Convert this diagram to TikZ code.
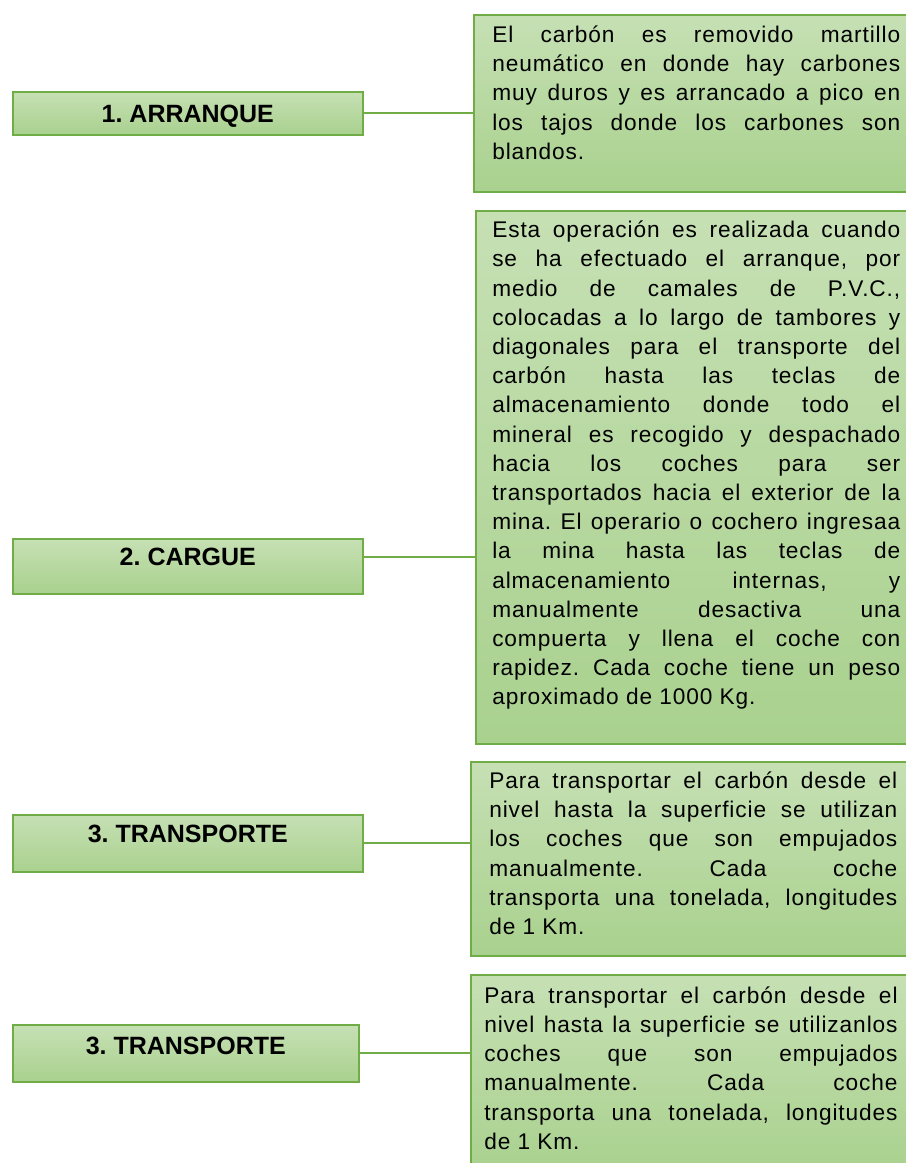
\documentclass[tikz,border=0pt]{standalone}
\usepackage{fontspec}
\setmainfont{Liberation Sans}
\newfontfamily\bodyfont[LetterSpace=4]{Liberation Sans}
\usetikzlibrary{positioning,calc}
\definecolor{boxline}{HTML}{70AD47}
\definecolor{boxtop}{HTML}{C6E0B4}
\definecolor{boxbot}{HTML}{A9D18E}
\frenchspacing

\begin{document}
\begin{tikzpicture}[x=0.75pt,y=-0.75pt,
  lbox/.style={draw=boxline,line width=1.2pt,top color=boxtop,bottom color=boxbot,
    anchor=north west,inner sep=0pt,minimum width=262.5pt,
    font=\fontsize{18.75}{22}\selectfont\bfseries},
  rbox/.style={draw=boxline,line width=1.2pt,top color=boxtop,bottom color=boxbot,
    anchor=north west,inner sep=0pt,minimum width=337.5pt},
  rtext/.style={anchor=north west,inner sep=0pt,text width=306pt,align=justify,
    font=\bodyfont\fontsize{17}{21.9}\selectfont,
    execute at begin node={\tolerance=10000\hyphenpenalty=10000\rule{0pt}{16.5pt}}},
  link/.style={color=boxline,line width=1.4pt}]
  \useasboundingbox (0,0) rectangle (906,1163);
  % steps on the left
  \node[lbox,text height=23pt,text depth=9.25pt] (l1) at (12,91) {1. ARRANQUE};
  \node[lbox,text height=20pt,text depth=21.25pt] (l2) at (12,538) {2. CARGUE};
  \node[lbox,text height=20.8pt,text depth=22pt] (l3) at (12,814) {3. TRANSPORTE};
  \node[lbox,text height=22.3pt,text depth=20.5pt,minimum width=259.5pt] (l4) at (12,1024) {3. TRANSPORTE};
  % descriptions on the right (cut off by the page edge)
  \node[rbox,minimum height=132.75pt] (r1) at (473,14) {};
  \node[rbox,minimum height=399.75pt] (r2) at (475,210) {};
  \node[rbox,minimum height=145.5pt] (r3) at (470,761) {};
  \node[rbox,minimum height=150pt] (r4) at (470,974) {};
  \node[rtext] (t1) at (492,20.3) {El carbón es removido martillo\linebreak
    neumático en donde hay carbones\linebreak
    muy duros y es arrancado a pico en\linebreak
    los tajos donde los carbones son\linebreak
    blandos.};
  \node[rtext] (t2) at (492,215.4) {Esta operación es realizada cuando\linebreak
    se ha efectuado el arranque, por\linebreak
    medio de camales de P.V.C.,\linebreak
    colocadas a lo largo de tambores y\linebreak
    diagonales para el transporte del\linebreak
    carbón hasta las teclas de\linebreak
    almacenamiento donde todo el\linebreak
    mineral es recogido y despachado\linebreak
    hacia los coches para ser\linebreak
    transportados hacia el exterior de la\linebreak
    mina. El operario o cochero ingresaa\linebreak
    la mina hasta las teclas de\linebreak
    almacenamiento internas, y\linebreak
    manualmente desactiva una\linebreak
    compuerta y llena el coche con\linebreak
    rapidez. Cada coche tiene un peso\linebreak
    aproximado de 1000 Kg.};
  \node[rtext] (t3) at (489,766.3) {Para transportar el carbón desde el\linebreak
    nivel hasta la superficie se utilizan\linebreak
    los coches que son empujados\linebreak
    manualmente. Cada coche\linebreak
    transporta una tonelada, longitudes\linebreak
    de 1 Km.};
  \node[rtext,text width=310pt] (t4) at (484,981) {Para transportar el carbón desde el\linebreak
    nivel hasta la superficie se utilizanlos\linebreak
    coches que son empujados\linebreak
    manualmente. Cada coche\linebreak
    transporta una tonelada, longitudes\linebreak
    de 1 Km.};
  % connectors
  \coordinate (c2) at ([yshift=7.1pt]l2.east);
  \draw[link] (l1.east) -- (l1.east -| r1.west);
  \draw[link] (c2) -- (c2 -| r2.west);
  \draw[link] (l3.east) -- (l3.east -| r3.west);
  \draw[link] (l4.east) -- (l4.east -| r4.west);
\end{tikzpicture}
\end{document}
